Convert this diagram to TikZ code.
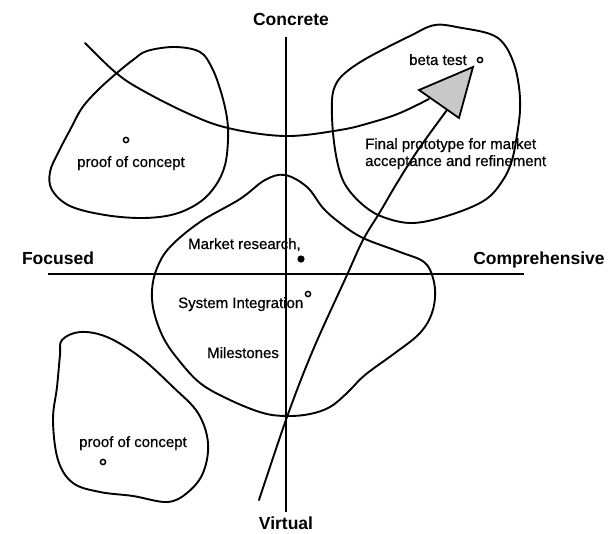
\documentclass[tikz,border=0pt]{standalone}
\usepackage{fontspec}
\setmainfont{Liberation Sans}
\newfontfamily\lblfont[FakeBold=0.6]{Liberation Sans}
\begin{document}
\begin{tikzpicture}[x=1pt,y=-1pt,
  blob/.style={line width=1.9pt, line join=round},
  axisline/.style={line width=2.6pt},
  axlabel/.style={font=\fontsize{17.5}{20}\selectfont\bfseries, inner sep=0pt, anchor=base},
  lbl/.style={font=\lblfont\fontsize{15}{18}\selectfont, inner sep=0pt, anchor=base west},
  ring/.style={line width=1.5pt, fill=white},
  pathline/.style={line width=1.9pt, line cap=round},
  headfill/.style={fill={rgb,255:red,200;green,200;blue,200}, draw=black, line width=1.8pt, line join=miter}]
\useasboundingbox (0,0) rectangle (615,533);

% blobs
\draw[blob] plot[smooth cycle, tension=0.6] coordinates {
 (147,51) (175,47) (200,52) (212,68) (221,92) (227,118) (228,140) (225,165)
 (216,185) (200,202) (175,214) (143,218) (105,215) (70,206) (52,190) (50,172)
 (58,153) (70,130) (82,108) (98,90) (118,72) (133,60)};

\draw[blob] plot[smooth cycle, tension=0.6] coordinates {
 (435,25) (462,28) (490,34) (504,44) (514,64) (519,87) (520,110) (517,135)
 (512,160) (503,180) (485,200) (450,215) (413,223) (383,217) (363,205) (346,186)
 (338,165) (333,133) (332,100) (336,84) (345,73) (362,61) (384,49) (410,36)};

\draw[blob] plot[smooth cycle, tension=0.6] coordinates {
 (285,175) (307,187) (323,208) (340,223) (363,238) (400,252) (424,262) (433,278)
 (435,298) (430,318) (418,335) (395,353) (365,375) (347,393) (330,407) (310,414)
 (287,416) (263,413) (230,400) (200,383) (177,358) (163,337) (154,312) (152,290)
 (157,268) (170,247) (200,222) (240,199) (265,180)};

\draw[blob] plot[smooth cycle, tension=0.6] coordinates {
 (62,340) (80,332) (107,337) (140,357) (173,387) (198,413) (208,443) (203,473)
 (187,493) (167,502) (133,496) (100,492) (73,483) (58,460) (53,420) (57,387) (60,355)};

% axes
\coordinate (vtop) at (286,37);
\coordinate (vbot) at (286,512);
\coordinate (hleft) at (48,274);
\coordinate (hright) at (524,274);
\draw[axisline] (vtop) -- (vbot);
\draw[axisline] (hleft) -- (hright);

% arrowhead
\coordinate (tipA) at (419,90);
\coordinate (tipB) at (473,67);
\coordinate (tipC) at (459,118);
% arrows
\draw[pathline] plot[smooth, tension=0.6] coordinates {
 (85,43) (115,72) (140,89) (187,113) (228,128) (285,136) (340,130) (373,122) (400,113) (429,99)};
\draw[pathline] plot[smooth, tension=0.6] coordinates {
 (259,500) (287,417) (313,350) (347,275) (363,240) (380,212) (397,183) (418,150) (447,110)};
\draw[headfill] (tipA) -- (tipB) -- (tipC) -- cycle;

% dots
\draw[ring] (126,140) circle (2.6);
\draw[ring] (103,462) circle (2.6);
\draw[ring] (480,60) circle (2.6);
\draw[ring] (308,294) circle (2.6);
\fill (301,259) circle (3.6);

% axis labels
\node[axlabel] (concrete) at (291,25) {Concrete};
\node[axlabel] (virtual) at (286,529) {Virtual};
\node[axlabel] (focused) at (58,264) {Focused};
\node[axlabel] (compr) at (539,264) {Comprehensive};

% labels
\node[lbl] (poc1) at (77,167) {proof of concept};
\node[lbl] (poc2) at (79,447) {proof of concept};
\node[lbl] (beta) at (409,65) {beta test};
\node[lbl] (fp1) at (365,149) {Final prototype for market};
\node[lbl] (fp2) at (365,166) {acceptance and refinement};
\node[lbl] (mr) at (188,249) {Market research,};
\node[lbl] (si) at (178,308) {System Integration};
\node[lbl] (ms) at (207,358) {Milestones};
\end{tikzpicture}
\end{document}
